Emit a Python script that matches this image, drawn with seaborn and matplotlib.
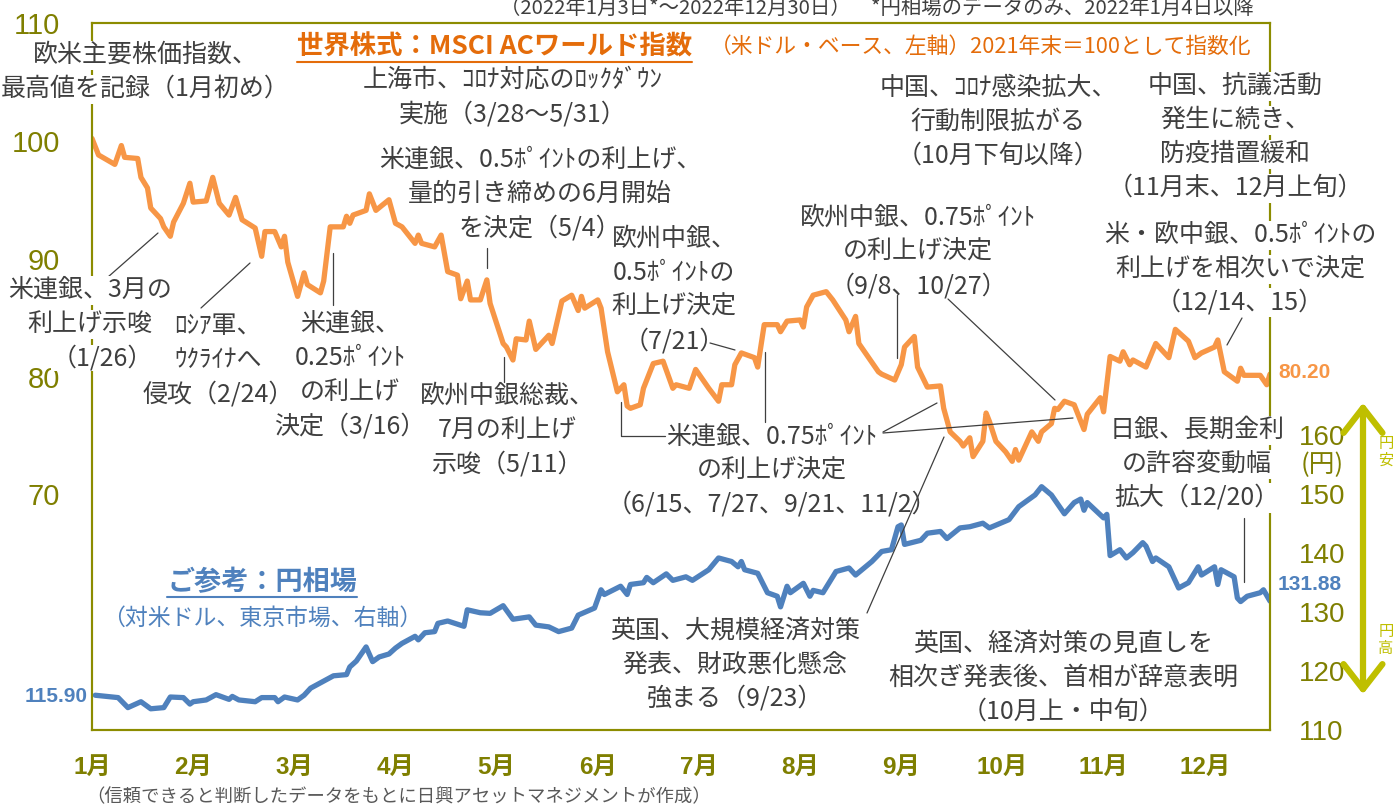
import numpy as np
import pandas as pd
import matplotlib
matplotlib.use("Agg")
import matplotlib.pyplot as plt
import seaborn as sns
from matplotlib.lines import Line2D
from matplotlib.patches import FancyArrowPatch

W, H = 1393, 806

# ---------------- data ----------------
msci_dates = ["01-03","01-05","01-10","01-12","01-13","01-17","01-18","01-20","01-21","01-24",
              "01-25","01-27","01-28","01-31","02-02","02-03","02-07","02-09","02-11","02-14",
              "02-16","02-18","02-22","02-24","02-25","02-28","03-02","03-03","03-04","03-07",
              "03-09","03-10","03-14","03-15","03-17","03-21","03-22","03-23","03-24","03-28",
              "03-29","03-31","04-04","04-06","04-08","04-12","04-13","04-14","04-18","04-20",
              "04-22","04-25","04-26","04-28","04-29","05-02","05-04","05-05","05-09","05-10",
              "05-12","05-13","05-16","05-17","05-19","05-23","05-24","05-27","05-30","06-01",
              "06-02","06-03","06-07","06-08","06-10","06-13","06-15","06-16","06-17","06-20",
              "06-21","06-24","06-27","06-30","07-01","07-05","07-07","07-11","07-14","07-15",
              "07-18","07-19","07-21","07-25","07-26","07-28","08-01","08-02","08-04","08-08",
              "08-09","08-10","08-12","08-16","08-18","08-22","08-23","08-25","08-26","09-01",
              "09-02","09-06","09-08","09-09","09-12","09-13","09-16","09-20","09-21","09-23",
              "09-26","09-27","09-29","09-30","10-03","10-04","10-05","10-07","10-10","10-12",
              "10-13","10-14","10-18","10-20","10-21","10-24","10-25","10-26","10-28","10-31",
              "11-03","11-04","11-08","11-09","11-11","11-14","11-15","11-17","11-18","11-22",
              "11-25","11-29","12-01","12-05","12-07","12-09","12-13","12-14","12-16","12-20",
              "12-21","12-22","12-27","12-29","12-30"]
msci_values = [100.2,98.8,98.0,99.6,98.6,98.5,96.9,96.0,94.3,93.4,
               92.7,91.9,93.1,94.7,96.4,94.8,94.9,96.9,94.7,93.7,
               95.2,93.3,92.6,90.2,92.3,92.3,91.0,91.9,89.7,86.8,
               88.8,87.8,87.1,88.1,92.7,92.7,93.6,93.0,93.7,94.1,
               95.5,94.1,95.0,93.0,92.7,91.3,92.0,91.3,91.0,92.0,
               88.9,88.6,86.6,88.1,86.5,86.5,88.2,86.2,82.8,82.5,
               81.4,83.2,83.1,84.7,82.3,83.5,82.8,86.4,86.9,85.6,
               86.8,85.8,86.5,85.8,82.1,78.7,79.3,77.5,77.3,77.6,
               79.0,81.1,81.3,79.0,79.3,79.0,80.6,79.0,77.9,79.3,
               79.3,81.0,82.0,81.6,80.8,84.4,84.4,83.8,84.7,84.8,
               84.2,85.9,86.9,87.2,86.5,84.8,83.8,85.1,82.8,80.4,
               80.2,79.7,81.0,82.5,83.4,80.8,79.1,79.2,77.3,75.3,
               74.5,74.1,74.8,73.2,74.5,76.9,76.2,74.5,73.6,72.8,
               73.8,72.9,75.3,74.5,75.3,76.0,77.3,77.2,77.9,77.6,
               75.5,76.8,78.2,77.0,81.7,81.3,82.1,81.0,81.4,80.8,
               82.8,81.6,84.0,83.0,81.6,82.0,82.5,83.1,80.4,79.6,
               80.7,80.1,80.1,79.3,80.2]

jpy_dates = ["01-04","01-11","01-14","01-18","01-21","01-25","01-27","01-31","02-02","02-03",
             "02-07","02-10","02-14","02-15","02-17","02-22","02-24","02-28","03-01","03-03",
             "03-07","03-09","03-11","03-14","03-18","03-22","03-23","03-25","03-28","03-30",
             "04-01","04-04","04-06","04-08","04-12","04-13","04-15","04-18","04-19","04-22",
             "04-27","04-28","05-02","05-05","05-09","05-12","05-17","05-19","05-23","05-26",
             "05-30","06-01","06-06","06-08","06-09","06-14","06-16","06-17","06-21","06-22",
             "06-24","06-28","06-30","07-04","07-06","07-11","07-14","07-18","07-20","07-21",
             "07-22","07-26","07-29","08-01","08-02","08-04","08-05","08-09","08-11","08-12",
             "08-15","08-19","08-23","08-25","08-30","09-02","09-05","09-07","09-08","09-09",
             "09-14","09-16","09-20","09-22","09-26","09-29","10-03","10-05","10-11","10-14",
             "10-19","10-21","10-24","10-28","10-31","11-02","11-03","11-04","11-09","11-10",
             "11-11","11-14","11-16","11-18","11-21","11-22","11-24","11-25","11-29","12-02",
             "12-05","12-08","12-09","12-13","12-14","12-15","12-19","12-20","12-21","12-23",
             "12-27","12-28","12-30"]
jpy_values = [115.90,115.5,113.8,114.8,113.6,113.8,115.6,115.5,114.4,114.8,
              115.1,116.0,115.2,115.7,115.1,114.8,115.5,115.5,114.8,115.6,
              115.1,115.9,117.1,118.0,119.2,119.4,120.7,121.7,124.1,121.6,
              122.4,122.9,123.9,124.7,125.9,125.3,126.5,126.7,128.1,128.5,
              127.6,130.4,129.9,129.8,131.1,128.8,129.2,127.8,127.5,126.7,
              127.3,129.5,130.7,133.8,133.0,134.4,133.0,134.7,135.0,135.9,
              135.0,136.5,135.4,136.0,135.4,137.2,139.2,138.6,137.7,138.6,
              137.2,136.6,133.3,132.7,130.9,134.4,133.3,134.9,132.7,133.7,
              133.3,136.9,137.5,136.3,138.6,140.3,140.6,144.5,144.8,141.5,
              142.2,143.4,143.7,142.5,144.3,144.5,145.1,144.3,145.7,147.9,
              149.9,151.3,149.9,146.7,148.6,149.2,147.3,148.6,146.0,146.6,
              139.6,140.6,139.2,140.1,141.8,141.2,138.6,139.2,137.7,134.1,
              135.0,137.7,136.3,137.7,134.7,137.2,136.0,132.4,131.8,132.7,
              133.3,133.8,131.88]

month_labels = [f"{m}月" for m in range(1, 13)]
left_ticks = [70, 80, 90, 100, 110]
right_ticks = [110, 120, 130, 140, 150, 160]

# ---------------- style ----------------
ORANGE = "#F79646"
ORANGE_T = "#E46C0A"
BLUE = "#4F81BD"
OLIVE = "#8C8C00"
OLIVE_T = "#7F7F00"
ARROW = "#BFBF00"
TXT = "#3F3F3F"

sns.set_theme(style="white")
plt.rcParams["font.family"] = ["Noto Sans CJK JP", "DejaVu Sans"]
NUMF = ["Liberation Sans", "Noto Sans CJK JP"]

fig = plt.figure(figsize=(W / 100, H / 100), dpi=100)
ax = fig.add_axes([92 / W, 1 - 730 / H, (1270 - 92) / W, (730 - 23) / H])
ax2 = ax.twinx()

df_m = pd.DataFrame({"date": pd.to_datetime(["2022-" + d for d in msci_dates]), "value": msci_values})
df_j = pd.DataFrame({"date": pd.to_datetime(["2022-" + d for d in jpy_dates]), "value": jpy_values})

sns.lineplot(data=df_m, x="date", y="value", ax=ax, color=ORANGE, lw=3.8)
sns.lineplot(data=df_j, x="date", y="value", ax=ax2, color=BLUE, lw=3.8)

ax.set_xlim(pd.Timestamp("2022-01-03"), pd.Timestamp("2022-12-30"))
ax.set_ylim(50, 110)
ax2.set_ylim(110, 230)
for a in (ax, ax2):
    a.set_xlabel("")
    a.set_ylabel("")
    a.grid(False)
    for s in a.spines.values():
        s.set_color(OLIVE)
        s.set_linewidth(1.5)

tick_dates = pd.date_range("2022-01-03", periods=12, freq="31D")
ax.set_xticks(tick_dates)
ax.set_xticklabels(month_labels, fontweight="bold", fontsize=17.5, color=OLIVE_T, family=NUMF)
ax.tick_params(axis="x", direction="in", length=6, width=1.2, color=OLIVE, pad=19)

ax.set_yticks(left_ticks)
ax.set_yticklabels([str(v) for v in left_ticks], fontsize=21, color=OLIVE_T, family=NUMF)
ax.tick_params(axis="y", length=0, pad=23)
ax2.set_yticks(right_ticks)
ax2.set_yticklabels([str(v) for v in right_ticks], fontsize=20, color=OLIVE_T, family=NUMF)
ax2.tick_params(axis="y", length=0, pad=21)


def T(x, y, s, **kw):
    return fig.text(x / W, 1 - y / H, s, **kw)


def L(pts, color=TXT, lw=0.9):
    xs = [p[0] / W for p in pts]
    ys = [1 - p[1] / H for p in pts]
    fig.add_artist(Line2D(xs, ys, transform=fig.transFigure, color=color, lw=lw))


# titles
t1 = T(297, 47, "世界株式：MSCI ACワールド指数", fontsize=19, fontweight="bold",
       color=ORANGE_T, ha="left", va="center")
T(710, 47, "（米ドル・ベース、左軸）2021年末＝100として指数化", fontsize=15.7,
  color=ORANGE_T, ha="left", va="center")
t2 = T(262, 582, "ご参考：円相場", fontsize=19.5, fontweight="bold", color=BLUE,
       ha="center", va="center")
T(262, 618, "（対米ドル、東京市場、右軸）", fontsize=16.5, color=BLUE, ha="center", va="center")
T(500, 8, "（2022年1月3日*～2022年12月30日）　*円相場のデータのみ、2022年1月4日以降",
  fontsize=14.7, color=TXT, ha="left", va="center")
T(86, 797, "（信頼できると判断したデータをもとに日興アセットマネジメントが作成）",
  fontsize=13.2, color="#595959", ha="left", va="center")

# value labels
T(1278, 373, "80.20", fontsize=15, fontweight="bold", color=ORANGE, family=NUMF, ha="left", va="center")
T(1278, 585, "131.88", fontsize=15, fontweight="bold", color=BLUE, family=NUMF, ha="left", va="center")
T(88, 697, "115.90", fontsize=15, fontweight="bold", color=BLUE, family=NUMF, ha="right", va="center")

# right axis unit and arrow
T(1322, 465, "(円)", fontsize=18.5, color=OLIVE_T, ha="center", va="center")
fig.add_artist(FancyArrowPatch((1363 / W, 1 - 400 / H), (1363 / W, 1 - 697 / H),
                               transform=fig.transFigure,
                               arrowstyle="<->,head_length=0.9,head_width=0.7",
                               mutation_scale=20, color=ARROW, lw=4.5))
T(1386, 452, "円\n安", fontsize=11, color=ARROW, ha="center", va="center", linespacing=1.0)
T(1386, 640, "円\n高", fontsize=11, color=ARROW, ha="center", va="center", linespacing=1.0)

# annotations (each line placed separately, 34 px apart)
notes = [
    (145, 72, "欧米主要株価指数、\n最高値を記録（1月初め）", True),
    (513, 97, "上海市、ｺﾛﾅ対応のﾛｯｸﾀﾞｳﾝ\n実施（3/28～5/31）", False),
    (540, 194, "米連銀、0.5ﾎﾟｲﾝﾄの利上げ、\n量的引き締めの6月開始\nを決定（5/4）", False),
    (90, 324, "米連銀、3月の\n利上げ示唆\n（1/26）", True),
    (218, 360, "ﾛｼｱ軍、\nｳｸﾗｲﾅへ\n侵攻（2/24）", False),
    (350, 375, "米連銀、\n0.25ﾎﾟｲﾝﾄ\nの利上げ\n決定（3/16）", False),
    (507, 430, "欧州中銀総裁、\n7月の利上げ\n示唆（5/11）", False),
    (674, 290, "欧州中銀、\n0.5ﾎﾟｲﾝﾄの\n利上げ決定\n（7/21）", False),
    (772, 471, "米連銀、0.75ﾎﾟｲﾝﾄ\nの利上げ決定\n（6/15、7/27、9/21、11/2）", False),
    (735, 665, "英国、大規模経済対策\n発表、財政悪化懸念\n強まる（9/23）", False),
    (1063, 678, "英国、経済対策の見直しを\n相次ぎ発表後、首相が辞意表明\n（10月上・中旬）", False),
    (918, 252, "欧州中銀、0.75ﾎﾟｲﾝﾄ\nの利上げ決定\n（9/8、10/27）", False),
    (998, 122, "中国、ｺﾛﾅ感染拡大、\n行動制限拡がる\n（10月下旬以降）", False),
    (1235, 137, "中国、抗議活動\n発生に続き、\n防疫措置緩和\n（11月末、12月上旬）", True),
    (1240, 269, "米・欧中銀、0.5ﾎﾟｲﾝﾄの\n利上げを相次いで決定\n（12/14、15）", True),
    (1197, 464, "日銀、長期金利\nの許容変動幅\n拡大（12/20）", True),
]
LINE_DX = {"（1/26）": 12}
LINE_GAP = 34
for x, y, s, box in notes:
    lines = s.split("\n")
    n = len(lines)
    for i, ln in enumerate(lines):
        yy = y + (i - (n - 1) / 2) * LINE_GAP
        kw = dict(fontsize=18.0, color=TXT, ha="center", va="center")
        if box:
            kw["bbox"] = dict(facecolor="white", edgecolor="none",
                              pad=0.0 if ln in LINE_DX else 1.0)
        T(x + LINE_DX.get(ln, 0), yy, ln, **kw)

leaders = [
    [(108, 277), (158, 233)],
    [(201, 308), (250, 263)],
    [(333, 253), (333, 305)],
    [(487, 248), (487, 268)],
    [(504, 357), (504, 382)],
    [(621, 402), (621, 436), (665, 436)],
    [(765, 352), (765, 422)],
    [(710, 343), (735, 350)],
    [(883, 432), (937, 403)],
    [(883, 433), (1073, 418)],
    [(867, 613), (944, 437)],
    [(897, 295), (897, 358)],
    [(948, 299), (1055, 400)],
    [(1242, 318), (1227, 345)],
    [(1244, 518), (1244, 582)],
]
for pts in leaders:
    L(pts)

# underlines for the two series titles
fig.canvas.draw()
for t, c in ((t1, ORANGE_T), (t2, BLUE)):
    bb = t.get_window_extent()
    yy = (bb.y0 - 1) / H
    fig.add_artist(Line2D([bb.x0 / W, bb.x1 / W], [yy, yy], transform=fig.transFigure,
                          color=c, lw=1.5))

fig.savefig("out.png", dpi=100)
